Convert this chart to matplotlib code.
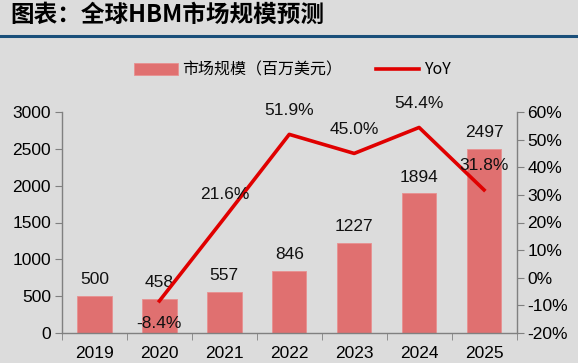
import matplotlib
matplotlib.use("Agg")
import matplotlib.pyplot as plt
import numpy as np

years = ["2019", "2020", "2021", "2022", "2023", "2024", "2025"]
market = [500, 458, 557, 846, 1227, 1894, 2497]
yoy_years = ["2020", "2021", "2022", "2023", "2024", "2025"]
yoy = [-8.4, 21.6, 51.9, 45.0, 54.4, 31.8]

bg = "#dcdcdc"
plt.rcParams['font.family'] = ['Liberation Sans', 'Noto Sans CJK SC', 'DejaVu Sans']
fs = 12.5

fig = plt.figure(figsize=(5.78, 3.63), dpi=100, facecolor=bg)
ax = fig.add_axes([62/578, 1-333/363, (516.5-62)/578, (333-112)/363])
ax.set_facecolor(bg)
ax2 = ax.twinx()

x = np.arange(len(years))
ax.bar(x, market, width=0.53, color="#e07070", edgecolor="#e89090", linewidth=0.6,
       label="市场规模（百万美元）", zorder=2)
for xi, v in zip(x, market):
    ax.text(xi, v + 120, str(v), ha="center", va="bottom", fontsize=fs, color="#111111")

xl = [years.index(y) for y in yoy_years]
ax2.plot(xl, yoy, color="#e00000", linewidth=2.6, label="YoY", zorder=3)
for xi, v in zip(xl, yoy):
    if v < 0:
        ax2.text(xi, v - 5.5, f"{v:.1f}%", ha="center", va="top", fontsize=fs, color="#111111")
    else:
        ax2.text(xi, v + 6.0, f"{v:.1f}%", ha="center", va="bottom", fontsize=fs, color="#111111")

ax.set_xlim(-0.5, len(years) - 0.5)
ax.set_ylim(0, 3000)
ax.set_yticks(range(0, 3001, 500))
ax2.set_ylim(-20, 60)
ax2.set_yticks(range(-20, 61, 10))
ax2.set_yticklabels([f"{t}%" for t in range(-20, 61, 10)])

ax.set_xticks(x)
ax.set_xticklabels(years)
ax.set_xticks(np.arange(-0.5, len(years), 1), minor=True)
ax.tick_params(axis="x", which="major", length=0, labelsize=fs, pad=9)
ax.tick_params(axis="x", which="minor", length=5, color="#808080", direction="out")
ax.tick_params(axis="y", length=5, color="#808080", labelsize=fs, pad=3)
ax2.tick_params(axis="y", length=5, color="#808080", labelsize=fs, pad=3)

for a in (ax, ax2):
    a.spines["top"].set_visible(False)
    for s in ("left", "right", "bottom"):
        a.spines[s].set_color("#808080")
        a.spines[s].set_linewidth(1.0)
ax.spines["right"].set_visible(False)
ax2.spines["left"].set_visible(False)
ax2.spines["bottom"].set_visible(False)

h1, l1 = ax.get_legend_handles_labels()
h2, l2 = ax2.get_legend_handles_labels()
fig.legend(h1 + h2, l1 + l2, loc="center", bbox_to_anchor=(292.5/578, 1-70/363), ncol=2,
           frameon=False, handlelength=2.7, handleheight=0.7,
           columnspacing=2.1, handletextpad=0.3,
           prop={"family": ["Noto Sans CJK SC"], "size": 11.5})

fig.text(10/578, 1-15/363, "图表：全球HBM市场规模预测", fontsize=17, fontweight="bold",
         family=["Noto Sans CJK SC"], va="center", ha="left", color="#000000")
fig.add_artist(plt.Line2D([0, 1], [1-36/363, 1-36/363], color="#1a4f7a", linewidth=2.2))

fig.savefig("out.png", dpi=100, facecolor=bg)
